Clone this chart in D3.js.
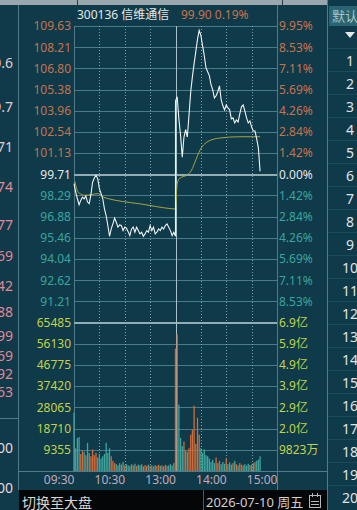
<!DOCTYPE html>
<html>
<head>
<meta charset="utf-8">
<script src="https://cdn.jsdelivr.net/npm/d3@7"></script>
<style>
  body { margin: 0; background: #0e3a4a; overflow: hidden; }
  svg { display: block; font-family: "Noto Sans", "Noto Sans CJK SC", sans-serif; }
</style>
</head>
<body>
<div id="chart"></div>
<script>
// ---- data ----
var stockCode = "300136";
var stockName = "信维通信";
var lastPrice = "99.90";
var lastPct = "0.19%";
var tradeDate = "2026-07-10 周五";
var switchLabel = "切换至大盘";
var prevClose = 99.71;

var priceTicks = [109.63, 108.21, 106.80, 105.38, 103.96, 102.54, 101.13, 99.71, 98.29, 96.88, 95.46, 94.04, 92.62, 91.21];
var pctLabels = ["9.95%", "8.53%", "7.11%", "5.69%", "4.26%", "2.84%", "1.42%", "0.00%", "1.42%", "2.84%", "4.26%", "5.69%", "7.11%", "8.53%"];
var volTicks = [65485, 56130, 46775, 37420, 28065, 18710, 9355];
var amountLabels = ["6.9亿", "5.9亿", "4.9亿", "3.9亿", "2.9亿", "2.0亿", "9823万"];
var timeLabels = ["09:30", "10:30", "13:00", "14:00", "15:00"];
var timeMinutes = [0, 60, 120, 180, 240];

// one point every 2 minutes, 09:30-11:30
var morningPrice = [99.08, 98.52, 98.07, 97.67, 97.96, 98.18, 98.07, 98.25, 97.85, 97.74,
  98.34, 99.19, 99.46, 99.64, 99.42, 98.75, 98.41, 98.07, 97.40, 96.95,
  96.28, 95.56, 96.05, 96.39, 96.77, 96.50, 96.17, 96.32, 96.28, 95.94,
  96.17, 96.10, 95.87, 95.61, 96.05, 96.17, 95.83, 96.17, 95.94, 95.72,
  95.83, 95.56, 95.72, 95.94, 95.83, 96.28, 95.94, 96.17, 95.72, 95.83,
  96.05, 95.94, 96.17, 96.05, 96.28, 96.39, 96.17, 95.94, 95.61, 95.83, 95.56];
// one point every 2 minutes, 13:00-14:40
var afternoonPrice = [104.6, 104.9, 103.4, 102.3, 100.85, 102.2, 102.7, 102.2, 103.7, 105.23,
  106.24, 107.11, 107.92, 108.73, 109.33, 109.00, 108.32, 107.65, 106.84, 106.57,
  106.31, 105.70, 105.36, 104.82, 104.96, 105.23, 105.63, 104.69, 104.29, 104.02,
  104.35, 104.15, 104.02, 103.41, 103.48, 103.14, 103.34, 103.21, 103.75, 104.22,
  104.35, 103.95, 103.48, 103.14, 103.28, 102.87, 102.60, 102.60, 102.07, 101.46, 99.90];

var morningVol = [25700, 10000, 14500, 15000, 7500, 9000, 8500, 7000, 12400, 8000,
  6500, 9500, 7000, 8000, 6000, 7500, 5500, 6500, 7500, 12400,
  8000, 10000, 6500, 4500, 3500, 3000, 2500, 3500, 2800, 4000,
  2500, 3000, 2500, 2200, 3000, 2500, 3200, 2200, 2800, 2500,
  3000, 2000, 2600, 2300, 2800, 2200, 2500, 2000, 2600, 2200,
  2800, 2300, 2500, 2000, 2700, 2300, 2500, 3000, 2400, 3500, 2800];
var afternoonVol = [54000, 60300, 29300, 14600, 11000, 13000, 9000, 8500, 10000, 16000,
  18200, 28800, 12000, 23500, 16000, 10000, 8000, 9500, 7000, 6500,
  5500, 4000, 5000, 3500, 6000, 3500, 4500, 3000, 4000, 3200,
  5500, 3000, 3800, 2800, 3500, 4500, 3000, 2500, 3500, 2800,
  2500, 3000, 2400, 3200, 2600, 2800, 3500, 4000, 4500, 5000, 6500];

var avgMinutes = [1, 5, 13, 21, 29, 35, 41, 57, 77, 96, 116, 120, 122, 125, 133, 139, 143, 149, 157, 172, 196, 220];
var avgPrice = [99.24, 98.50, 98.30, 98.36, 98.41, 98.18, 98.07, 97.89, 97.74, 97.56, 97.40, 97.39,
  99.10, 99.44, 99.64, 99.98, 100.52, 101.33, 101.86, 102.13, 102.22, 102.22];

var sideNumbers = ["0.6", "9.7", "71", "74", "77", "69", "42", "88", "99", "69", "92", "63", "00", "00"];
var rankNumbers = d3.range(1, 21);

// ---- layout ----
var W = 357, H = 510;
var box = { left: 74, right: 277, top: 26, mid: 322.5, bottom: 471 };
var RED = "#c8734c", GREEN = "#3aa59d", WHITE = "#e6e6e6", YEL = "#c4d248";

var svg = d3.select("#chart").append("svg").attr("width", W).attr("height", H);
svg.append("rect").attr("width", W).attr("height", H).attr("fill", "#0e3a4a");

var x = d3.scaleLinear().domain([0, 240]).range([box.left, box.right]);
var y = d3.scaleLinear().domain([89.79, 109.63]).range([box.mid, box.top]);
var yVol = d3.scaleLinear().domain([0, 65485]).range([box.bottom, box.mid]);

// top strip and frame lines
svg.append("rect").attr("x", 0).attr("y", 0).attr("width", 328).attr("height", 5).attr("fill", "#9aa7ac");
[77, 282].forEach(function (px) {
  svg.append("line").attr("x1", px + 0.5).attr("x2", px + 0.5).attr("y1", 0).attr("y2", 5).attr("stroke", "#2c3c42");
});
var frame = [[18.5, 5, 18.5, 490], [74.5, box.top, 74.5, box.bottom], [277.5, 5, 277.5, 490],
  [327.5, 0, 327.5, 510], [18, 471.5, 327, 471.5], [0, 418.5, 18, 418.5]];
frame.forEach(function (f) {
  svg.append("line").attr("x1", f[0]).attr("y1", f[1]).attr("x2", f[2]).attr("y2", f[3])
    .attr("stroke", "#4f7c88").attr("shape-rendering", "crispEdges");
});

// horizontal grid
function hgrid(scale, ticks, strong) {
  var g = svg.append("g").attr("transform", "translate(" + box.left + ",0)")
    .call(d3.axisRight(scale).tickValues(ticks).tickSize(box.right - box.left).tickFormat(""));
  g.select(".domain").remove();
  g.selectAll("line").attr("stroke", function (d) { return d === strong ? "#93adb5" : "#4a7b88"; })
    .attr("stroke-width", function (d) { return d === strong ? 2 : 1; })
    .attr("shape-rendering", "crispEdges");
}
hgrid(y, priceTicks, prevClose);
hgrid(yVol, volTicks, 65485);

// vertical grid
var vg = svg.append("g").attr("transform", "translate(0," + box.bottom + ")")
  .call(d3.axisBottom(x).tickValues([30, 60, 90, 150, 180, 210]).tickSize(-(box.bottom - box.top)).tickFormat(""));
vg.select(".domain").remove();
vg.selectAll("line").attr("stroke", "#7ea3ad").attr("stroke-dasharray", "1,2").attr("shape-rendering", "crispEdges");
svg.append("line").attr("x1", Math.round(x(120)) + 0.5).attr("x2", Math.round(x(120)) + 0.5)
  .attr("y1", box.top).attr("y2", box.bottom).attr("stroke", "#a9c2c9");

// axis labels
function priceColor(d) { return d > prevClose ? RED : (d < prevClose ? GREEN : WHITE); }
function labelAxis(axis, tx, color) {
  var g = svg.append("g").attr("transform", "translate(" + tx + ",0)").call(axis);
  g.select(".domain").remove();
  g.attr("font-size", 12).attr("font-family", null);
  g.selectAll("text").attr("fill", color);
  return g;
}
labelAxis(d3.axisLeft(y).tickValues(priceTicks).tickSize(0).tickPadding(3).tickFormat(d3.format(".2f")), box.left, priceColor);
labelAxis(d3.axisRight(y).tickValues(priceTicks).tickSize(0).tickPadding(2)
  .tickFormat(function (d, i) { return pctLabels[i]; }), box.right, priceColor);
labelAxis(d3.axisLeft(yVol).tickValues(volTicks).tickSize(0).tickPadding(3).tickFormat(d3.format("d")), box.left, YEL);
labelAxis(d3.axisRight(yVol).tickValues(volTicks).tickSize(0).tickPadding(2)
  .tickFormat(function (d, i) { return amountLabels[i]; }), box.right, YEL);

var tg = svg.append("g").attr("transform", "translate(0," + box.bottom + ")")
  .call(d3.axisBottom(x).tickValues(timeMinutes).tickSize(0).tickPadding(4)
    .tickFormat(function (d, i) { return timeLabels[i]; }));
tg.select(".domain").remove();
tg.attr("font-size", 12).attr("font-family", null);
tg.selectAll("text").attr("fill", "#c6a9bb").attr("text-anchor", "end");

// series
var pts = morningPrice.map(function (p, i) { return { m: i * 2, p: p, v: morningVol[i] }; })
  .concat(afternoonPrice.map(function (p, j) { return { m: 120 + j * 2, p: p, v: afternoonVol[j] }; }));

svg.append("g").selectAll("rect").data(pts).enter().append("rect")
  .attr("x", function (d) { return x(d.m) - 0.65; })
  .attr("width", 1.3)
  .attr("y", function (d) { return yVol(d.v); })
  .attr("height", function (d) { return box.bottom - yVol(d.v); })
  .attr("fill", function (d, i) {
    var prev = i === 0 ? prevClose : pts[i - 1].p;
    return d.p >= prev ? "#cf6c3c" : "#3fa69e";
  });

var avgPts = avgMinutes.map(function (m, i) { return { m: m, p: avgPrice[i] }; });
var line = d3.line().x(function (d) { return x(d.m); }).y(function (d) { return y(d.p); });
svg.append("path").datum(avgPts).attr("d", line.curve(d3.curveMonotoneX))
  .attr("fill", "none").attr("stroke", "#a9a444").attr("stroke-width", 1);
svg.append("path").datum(pts).attr("d", d3.line().x(function (d) { return x(d.m); }).y(function (d) { return y(d.p); }))
  .attr("fill", "none").attr("stroke", "#f2f4f4").attr("stroke-width", 1.1);

// header
svg.append("text").attr("x", 77).attr("y", 19).attr("font-size", 12).attr("fill", WHITE)
  .text(stockCode + " " + stockName);
svg.append("text").attr("x", 181).attr("y", 19).attr("font-size", 12).attr("fill", RED)
  .text(lastPrice + " " + lastPct);

// left neighbour column (cut off at the window edge, as in the screenshot)
var sideY = [62, 106, 146, 186, 224, 255, 285, 311, 335, 355, 373, 391, 447, 487];
svg.append("g").selectAll("text").data(sideNumbers).enter().append("text")
  .attr("x", 13).attr("y", function (d, i) { return sideY[i]; })
  .attr("text-anchor", "end").attr("dominant-baseline", "central").attr("font-size", 14)
  .attr("fill", function (d, i) { return i < 3 ? "#e2ccd2" : (i >= 12 ? "#ead6dc" : "#e48797"); })
  .text(function (d) { return d; });

// right rank column
svg.append("rect").attr("x", 329).attr("y", 6).attr("width", 28).attr("height", 20).attr("fill", "#2a6572");
svg.append("text").attr("x", 332).attr("y", 16).attr("dominant-baseline", "central").attr("font-size", 13)
  .attr("fill", "#a8c6cc").text("默认");
svg.append("path").attr("d", "M345,32 L355,32 L350,38 Z").attr("fill", "#e6e6e6");
svg.append("g").selectAll("line").data(rankNumbers).enter().append("line")
  .attr("x1", 328).attr("x2", 357)
  .attr("y1", function (d) { return 48.5 + (d - 1) * 23; }).attr("y2", function (d) { return 48.5 + (d - 1) * 23; })
  .attr("stroke", "#1c4b58");
svg.append("g").selectAll("text").data(rankNumbers).enter().append("text")
  .attr("x", 350).attr("y", function (d) { return 60 + (d - 1) * 23; })
  .attr("text-anchor", "middle").attr("dominant-baseline", "central").attr("font-size", 14)
  .attr("fill", "#e2e2e2").text(function (d) { return d; });

// bottom bar
svg.append("rect").attr("x", 19).attr("y", 490).attr("width", 308).attr("height", 20).attr("fill", "#050607");
svg.append("text").attr("x", 22).attr("y", 502).attr("dominant-baseline", "central").attr("font-size", 14)
  .attr("fill", "#d6d6d6").text(switchLabel);
svg.append("line").attr("x1", 203.5).attr("x2", 203.5).attr("y1", 490).attr("y2", 510).attr("stroke", "#555");
svg.append("text").attr("x", 206).attr("y", 502).attr("dominant-baseline", "central").attr("font-size", 13)
  .attr("fill", "#d0d0d0").text(tradeDate);
var cal = svg.append("g").attr("fill", "none").attr("stroke", "#b8b8b8");
cal.append("rect").attr("x", 309.5).attr("y", 495.5).attr("width", 11).attr("height", 12);
cal.append("line").attr("x1", 312.5).attr("x2", 312.5).attr("y1", 493).attr("y2", 497);
cal.append("line").attr("x1", 317.5).attr("x2", 317.5).attr("y1", 493).attr("y2", 497);
cal.append("line").attr("x1", 311).attr("x2", 319).attr("y1", 501.5).attr("y2", 501.5);
cal.append("line").attr("x1", 311).attr("x2", 319).attr("y1", 504.5).attr("y2", 504.5);
</script>
</body>
</html>
